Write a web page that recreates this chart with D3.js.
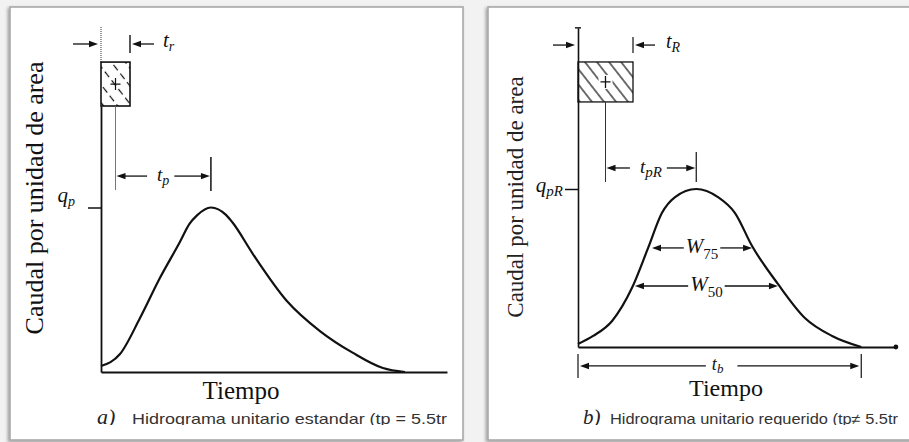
<!DOCTYPE html>
<html>
<head>
<meta charset="utf-8">
<script src="https://cdn.jsdelivr.net/npm/d3@7"></script>
<style>
  html, body { margin: 0; padding: 0; background: #f2f2f2; overflow: hidden; }
  svg { display: block; }
</style>
</head>
<body>
<svg id="chart" width="909" height="442"></svg>
<script>
// ---------------------------------------------------------------
// Unit hydrographs: (a) standard Snyder hydrograph, (b) required one.
// Time in hours, discharge as a fraction of the peak discharge.
// ---------------------------------------------------------------

// (a) standard unit hydrograph
const stdTime = [0, 0.655, 1.345, 2.03, 2.72, 3.05, 3.31, 3.79, 4.31, 4.53, 5.24, 6.41, 7.55, 8.69, 9.72, 10.48];
const stdFlow = [0.036, 0.109, 0.328, 0.571, 0.79, 0.9, 0.952, 1.0, 0.955, 0.91, 0.717, 0.432, 0.249, 0.116, 0.024, 0];

// (b) required unit hydrograph
const reqTime = [0, 0.55, 1.24, 1.96, 2.55, 3.05, 3.53, 4.3, 5.09, 5.71, 6.33, 7.27, 8.25, 9.24, 10.3];
const reqFlow = [0.019, 0.07, 0.165, 0.373, 0.627, 0.848, 0.949, 1.0, 0.949, 0.848, 0.639, 0.399, 0.184, 0.07, 0];

// rainfall excess duration (tr, tR) in hours
const rainDuration = [1, 2];
// rainfall block height range (fraction of peak) drawn above the hydrograph
const rainBottom = [1.617, 1.551];
const rainTop = [1.884, 1.804];

// widths of the required hydrograph
const widthNames = ["75", "50"];
const widthFlow = [0.627, 0.386];
const widthStart = [2.69, 2.07];
const widthEnd = [6.33, 7.27];

// texts
const yTitle = "Caudal por unidad de area";
const xTitle = "Tiempo";
const captionTags = ["a)", "b)"];
const captions = ["Hidrograma unitario estandar (tp = 5.5tr", "Hidrograma unitario requerido (tp\u2260 5.5tr"];

// ---------------------------------------------------------------
const SERIF = "'Liberation Serif', 'Times New Roman', serif";
const SANS = "'Liberation Sans', Arial, sans-serif";
const INK = "#111";

const svg = d3.select("#chart");
const defs = svg.append("defs");

defs.append("filter").attr("id", "shadow")
  .attr("x", "-5%").attr("y", "-5%").attr("width", "110%").attr("height", "110%")
  .append("feDropShadow")
  .attr("dx", -1.5).attr("dy", 1.5).attr("stdDeviation", 1.4)
  .attr("flood-color", "#000").attr("flood-opacity", 0.35);

// hatch for the rainfall blocks
function hatch(id, spacing, dash, width) {
  const p = defs.append("pattern").attr("id", id)
    .attr("patternUnits", "userSpaceOnUse")
    .attr("width", spacing).attr("height", spacing)
    .attr("patternTransform", "rotate(-38)");
  p.append("line").attr("x1", spacing / 2).attr("x2", spacing / 2)
    .attr("y1", 0).attr("y2", spacing)
    .attr("stroke", INK).attr("stroke-width", width)
    .attr("stroke-dasharray", dash);
}
hatch("hatchA", 11, "7 4", 1.2);
hatch("hatchB", 9.5, null, 1.2);

// caption clip (captions are cut just below their baseline)
defs.append("clipPath").attr("id", "capClip")
  .append("rect").attr("x", 0).attr("y", 0).attr("width", 909).attr("height", 425);

// ---------------- panels ----------------
const panelBoxes = [
  { x: 10, y: 7, w: 453, h: 433 },
  { x: 488, y: 7, w: 440, h: 433 }
];
svg.selectAll("rect.panel").data(panelBoxes).join("rect")
  .attr("class", "panel")
  .attr("x", d => d.x).attr("y", d => d.y)
  .attr("width", d => d.w).attr("height", d => d.h)
  .attr("fill", "#fff")
  .attr("stroke", "#a9a9a9").attr("stroke-width", 1.6)
  .attr("filter", "url(#shadow)");

// ---------------- helpers ----------------
function arrow(g, xFrom, xTo, y) {
  const dir = Math.sign(xTo - xFrom);
  g.append("line")
    .attr("x1", xFrom).attr("x2", xTo - dir * 6)
    .attr("y1", y).attr("y2", y)
    .attr("stroke", INK).attr("stroke-width", 1.3);
  g.append("path")
    .attr("d", `M${xTo},${y} L${xTo - dir * 9},${y - 3.2} L${xTo - dir * 9},${y + 3.2} Z`)
    .attr("fill", INK);
}

function vtick(g, x, y1, y2, w) {
  g.append("line").attr("x1", x).attr("x2", x).attr("y1", y1).attr("y2", y2)
    .attr("stroke", INK).attr("stroke-width", w || 1.3);
}

function symbol(g, x, y, main, sub, o) {
  o = o || {};
  const t = g.append("text")
    .attr("x", x).attr("y", y)
    .attr("font-family", SERIF).attr("font-style", "italic")
    .attr("font-size", o.size || 20)
    .attr("text-anchor", o.anchor || "start")
    .attr("fill", INK);
  t.append("tspan").text(main);
  t.append("tspan")
    .attr("font-size", o.subSize || 14)
    .attr("font-style", o.subStyle || "italic")
    .attr("dy", o.subDy || 5)
    .text(sub);
  return t;
}

// arrow pair with a centred label between two x positions
function spanArrow(g, xa, xb, y, main, sub, o) {
  o = o || {};
  const mid = (xa + xb) / 2 + (o.shift || 0);
  const lbl = symbol(g, mid, y + (o.lift || 5), main, sub, Object.assign({ anchor: "middle" }, o));
  const w = lbl.node().getComputedTextLength();
  const l0 = mid - w / 2, l1 = mid + w / 2;
  arrow(g, l0 - (o.gapL || 10), xa, y);
  arrow(g, l1 + (o.gapR || 5), xb, y);
}

function peakOf(times, flows) {
  const i = d3.maxIndex(flows);
  return { t: times[i], q: flows[i] };
}

// ---------------- a) standard hydrograph ----------------
(function drawStandard() {
  const g = svg.append("g");
  const x = d3.scaleLinear().domain([0, 12]).range([101, 449]);
  const y = d3.scaleLinear().domain([0, 1]).range([372, 207.5]);
  const tEnd = 11.93, qTop = 2.097;
  const tr = rainDuration[0];
  const pk = peakOf(stdTime, stdFlow);

  // axes
  const xa = x.copy().domain([0, tEnd]).range([x(0), x(tEnd)]);
  const gx = g.append("g").attr("transform", `translate(0,${y(0)})`)
    .call(d3.axisBottom(xa).tickValues([]).tickSizeOuter(0));
  gx.select(".domain").attr("stroke", INK).attr("stroke-width", 2);

  const ya = y.copy().domain([0, rainBottom[0]]).range([y(0), y(rainBottom[0])]);
  const gy = g.append("g").attr("transform", `translate(${x(0)},0)`)
    .call(d3.axisLeft(ya).tickValues([pk.q]).tickSize(13).tickSizeOuter(0).tickFormat(""));
  gy.select(".domain").attr("stroke", INK).attr("stroke-width", 1.8);
  gy.selectAll(".tick line").attr("stroke", INK).attr("stroke-width", 1.5);

  // dotted upper part of the axis
  g.append("line").attr("x1", x(0)).attr("x2", x(0))
    .attr("y1", y(rainTop[0])).attr("y2", y(qTop))
    .attr("stroke", "#555").attr("stroke-width", 1.2).attr("stroke-dasharray", "1 1");

  // q_p label
  symbol(g, x(0) - 26, y(pk.q) - 6, "q", "p", { anchor: "end", size: 21, subDy: 4 });

  // rainfall block
  g.append("rect")
    .attr("x", x(0)).attr("y", y(rainTop[0]))
    .attr("width", x(tr) - x(0)).attr("height", y(rainBottom[0]) - y(rainTop[0]))
    .attr("fill", "url(#hatchA)").attr("stroke", INK).attr("stroke-width", 1.6);
  const cx = x(tr / 2), cy = (y(rainTop[0]) + y(rainBottom[0])) / 2;
  g.append("path").attr("d", `M${cx - 5},${cy}H${cx + 5}M${cx},${cy - 6}V${cy + 6}`)
    .attr("stroke", INK).attr("stroke-width", 1.2);

  // t_r
  const yTr = y(1.994);
  arrow(g, x(0) - 28, x(0) - 3, yTr);
  arrow(g, x(tr) + 24, x(tr) + 2, yTr);
  vtick(g, x(tr), yTr - 9, yTr + 9, 1.4);
  symbol(g, x(tr) + 33, yTr + 3, "t", "r", { size: 21, subDy: 4 });

  // t_p
  const yTp = y(1.191);
  g.append("line").attr("x1", cx).attr("x2", cx)
    .attr("y1", y(rainBottom[0])).attr("y2", y(1.106))
    .attr("stroke", "#666").attr("stroke-width", 0.9);
  vtick(g, x(pk.t), yTp - 19, yTp + 15, 1.5);
  spanArrow(g, cx + 1, x(pk.t) - 1, yTp, "t", "p", { size: 19, subDy: 4, lift: 5 });

  // hydrograph
  const line = d3.line().x(d => x(d[0])).y(d => y(d[1])).curve(d3.curveMonotoneX);
  g.append("path").datum(d3.zip(stdTime, stdFlow))
    .attr("d", line).attr("fill", "none")
    .attr("stroke", INK).attr("stroke-width", 2.2).attr("stroke-linejoin", "round");

  // titles
  g.append("text").attr("x", 241).attr("y", 399)
    .attr("text-anchor", "middle").attr("font-family", SERIF).attr("font-size", 25)
    .attr("fill", INK).text(xTitle);
  g.append("text").attr("transform", "translate(43,198) rotate(-90)")
    .attr("text-anchor", "middle").attr("font-family", SERIF).attr("font-size", 26)
    .attr("fill", INK).text(yTitle);

  // caption
  const cap = g.append("g").attr("clip-path", "url(#capClip)");
  cap.append("text").attr("x", 97).attr("y", 424)
    .attr("font-family", SERIF).attr("font-style", "italic").attr("font-size", 22)
    .attr("fill", "#222").text(captionTags[0]);
  cap.append("text").attr("x", 132).attr("y", 424)
    .attr("font-family", SANS).attr("font-size", 15)
    .attr("textLength", 315).attr("lengthAdjust", "spacingAndGlyphs")
    .attr("fill", "#333").text(captions[0]);
})();

// ---------------- b) required hydrograph ----------------
(function drawRequired() {
  const g = svg.append("g");
  const x = d3.scaleLinear().domain([0, 12]).range([578, 908]);
  const y = d3.scaleLinear().domain([0, 1]).range([347, 189]);
  const tEnd = 11.56, qTop = 2.02;
  const tR = rainDuration[1];
  const pk = peakOf(reqTime, reqFlow);
  const tb = reqTime[reqTime.length - 1];

  // axes
  const xa = x.copy().domain([0, tEnd]).range([x(0), x(tEnd)]);
  const gx = g.append("g").attr("transform", `translate(0,${y(0)})`)
    .call(d3.axisBottom(xa).tickValues([]).tickSizeOuter(0));
  gx.select(".domain").attr("stroke", INK).attr("stroke-width", 2);
  g.append("circle").attr("cx", x(tEnd)).attr("cy", y(0)).attr("r", 2.4).attr("fill", INK);

  const ya = y.copy().domain([0, qTop]).range([y(0), y(qTop)]);
  const gy = g.append("g").attr("transform", `translate(${x(0)},0)`)
    .call(d3.axisLeft(ya).tickValues([pk.q]).tickSize(13).tickSizeOuter(0).tickFormat(""));
  gy.select(".domain").attr("stroke", INK).attr("stroke-width", 1.6);
  gy.selectAll(".tick line").attr("stroke", INK).attr("stroke-width", 1.5);
  g.append("line").attr("x1", x(0) - 3).attr("x2", x(0) + 3)
    .attr("y1", y(qTop)).attr("y2", y(qTop))
    .attr("stroke", INK).attr("stroke-width", 1.4);

  symbol(g, x(0) - 15, y(pk.q) + 3, "q", "pR", { anchor: "end", size: 21, subDy: 4, subSize: 15 });

  // rainfall block
  g.append("rect")
    .attr("x", x(0)).attr("y", y(rainTop[1]))
    .attr("width", x(tR) - x(0)).attr("height", y(rainBottom[1]) - y(rainTop[1]))
    .attr("fill", "url(#hatchB)").attr("stroke", INK).attr("stroke-width", 1.3);
  const cx = x(tR / 2), cy = (y(rainTop[1]) + y(rainBottom[1])) / 2;
  g.append("rect").attr("x", cx - 7).attr("y", cy - 7).attr("width", 14).attr("height", 14).attr("fill", "#fff");
  g.append("path").attr("d", `M${cx - 5},${cy}H${cx + 5}M${cx},${cy - 6}V${cy + 6}`)
    .attr("stroke", INK).attr("stroke-width", 1.3);

  // t_R
  const yTR = y(1.911);
  arrow(g, x(0) - 25, x(0) - 3, yTR);
  arrow(g, x(tR) + 22, x(tR) + 2, yTR);
  vtick(g, x(tR), yTR - 8, yTR + 8, 1.2);
  symbol(g, x(tR) + 33, yTR + 3, "t", "R", { size: 20, subDy: 4, subSize: 14 });

  // t_pR
  const yTp = y(1.133);
  g.append("line").attr("x1", cx).attr("x2", cx)
    .attr("y1", y(rainBottom[1])).attr("y2", y(1.044))
    .attr("stroke", "#333").attr("stroke-width", 1);
  vtick(g, x(pk.t), yTp - 16, yTp + 14, 1.2);
  spanArrow(g, cx + 1, x(pk.t) - 1, yTp, "t", "pR", { size: 19, subDy: 4, subSize: 15, lift: 5 });

  // hydrograph
  const line = d3.line().x(d => x(d[0])).y(d => y(d[1])).curve(d3.curveMonotoneX);
  g.append("path").datum(d3.zip(reqTime, reqFlow))
    .attr("d", line).attr("fill", "none")
    .attr("stroke", INK).attr("stroke-width", 2.2).attr("stroke-linejoin", "round");

  // W75 and W50
  widthNames.forEach((nm, i) => {
    spanArrow(g, x(widthStart[i]), x(widthEnd[i]), y(widthFlow[i]), "W", nm,
      { size: 21, subSize: 15, subDy: 6, subStyle: "normal", gapL: 2, gapR: 2, lift: 5 });
  });

  // t_b
  const yTb = y(-0.12);
  vtick(g, x(0), yTb - 12, yTb + 12, 1.2);
  vtick(g, x(tb), yTb - 12, yTb + 12, 1.2);
  spanArrow(g, x(0) + 2, x(tb) - 2, yTb, "t", "b", { size: 18, subSize: 13, subDy: 3, gapL: 6, gapR: 14, lift: 4, shift: -2 });

  // titles
  g.append("text").attr("x", 726).attr("y", 396)
    .attr("text-anchor", "middle").attr("font-family", SERIF).attr("font-size", 24)
    .attr("fill", INK).text(xTitle);
  g.append("text").attr("transform", "translate(523,197) rotate(-90)")
    .attr("text-anchor", "middle").attr("font-family", SERIF).attr("font-size", 23)
    .attr("fill", "#222").text(yTitle);

  // caption
  const cap = g.append("g").attr("clip-path", "url(#capClip)");
  cap.append("text").attr("x", 583).attr("y", 424)
    .attr("font-family", SERIF).attr("font-style", "italic").attr("font-size", 21)
    .attr("fill", "#222").text(captionTags[1]);
  cap.append("text").attr("x", 610).attr("y", 424)
    .attr("font-family", SANS).attr("font-size", 14.5)
    .attr("textLength", 288).attr("lengthAdjust", "spacingAndGlyphs")
    .attr("fill", "#333").text(captions[1]);
})();
</script>
</body>
</html>
